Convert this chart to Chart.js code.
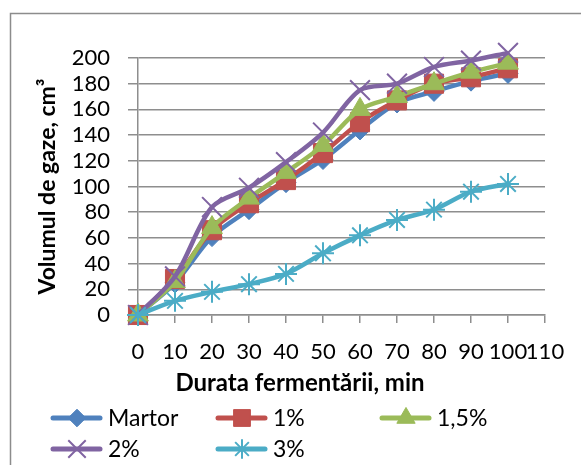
<!DOCTYPE html>
<html>
<head>
<meta charset="utf-8">
<script src="https://cdn.jsdelivr.net/npm/chart.js@4/dist/chart.umd.min.js"></script>
<style>
  body { margin: 0; background: #fff; }
  canvas { display: block; }
</style>
</head>
<body>
<canvas id="myChart" width="581" height="465"></canvas>
<script>
const minutes = [0, 10, 20, 30, 40, 50, 60, 70, 80, 90, 100]
const martor = [0, 25, 61, 82, 103, 121, 144, 165, 174, 182, 188]
const p1 = [0, 28, 66, 87, 105, 126, 150, 167, 180, 185, 192]
const p15 = [0, 26, 68, 91, 111, 132, 160, 170, 180, 189, 196]
const p2 = [0, 30, 84, 99, 119, 142, 175, 180, 193, 198, 204]
const p3 = [0, 11, 18, 24, 32, 48, 62, 74, 82, 96, 102]
const seriesNames = ['Martor', '1%', '1,5%', '2%', '3%']
const xTitle = 'Durata fermentării, min'
const yTitle = 'Volumul de gaze, cm³'

const FONT = 'Lato'
const GRID = '#8e8e8e'

const toPoints = (vals) => vals.map((v, i) => ({ x: minutes[i], y: v }))

const makeSet = (label, vals, color, style, radius, bw, order) => ({
    label: label,
    data: toPoints(vals),
    borderColor: color,
    backgroundColor: color,
    borderWidth: 4.5,
    tension: 0.3,
    clip: false,
    pointStyle: style,
    pointRadius: radius,
    pointBorderWidth: bw,
    pointBackgroundColor: color,
    pointBorderColor: color,
    order: order
})

const datasets = [
    makeSet(seriesNames[0], martor, '#4F81BD', 'rectRot', 10, 1, 5),
    makeSet(seriesNames[1], p1, '#C0504D', 'rect', 13.5, 1, 4),
    makeSet(seriesNames[2], p15, '#9BBB59', 'triangle', 12, 1, 3),
    makeSet(seriesNames[3], p2, '#8064A2', 'crossRot', 14, 2, 2),
    makeSet(seriesNames[4], p3, '#4BACC6', 'star', 11, 2, 1)
]

// frame round the chart and white background
const framePlugin = {
    id: 'frame',
    beforeDraw(chart) {
        const ctx = chart.ctx
        ctx.save()
        ctx.fillStyle = '#fff'
        ctx.fillRect(0, 0, chart.width, chart.height)
        ctx.strokeStyle = '#8c8c8c'
        ctx.lineWidth = 1.5
        ctx.strokeRect(10.5, 13.5, 700, 600)
        ctx.restore()
    }
}

// x title (Excel puts it a bit left of the plot centre) + legend in 3 columns
const legendPlugin = {
    id: 'xlLegend',
    afterDraw(chart) {
        const ctx = chart.ctx
        ctx.save()
        ctx.fillStyle = '#000'
        ctx.font = 'bold 24px ' + FONT
        ctx.textAlign = 'center'
        ctx.textBaseline = 'middle'
        ctx.fillText(xTitle, 300, 383)

        const cols = [53, 218, 382]
        const rows = [418, 449]
        chart.data.datasets.forEach((ds, i) => {
            const x = cols[i % 3]
            const y = rows[Math.floor(i / 3)]
            ctx.strokeStyle = ds.borderColor
            ctx.lineWidth = 5
            ctx.lineCap = 'round'
            ctx.beginPath()
            ctx.moveTo(x, y)
            ctx.lineTo(x + 47, y)
            ctx.stroke()
            ctx.fillStyle = ds.pointBackgroundColor
            ctx.lineWidth = ds.pointBorderWidth
            ctx.lineCap = 'butt'
            Chart.helpers.drawPoint(ctx, {
                pointStyle: ds.pointStyle,
                radius: ds.pointRadius * 0.88,
                rotation: 0,
                borderWidth: ds.pointBorderWidth
            }, x + 24, y)
            ctx.fillStyle = '#000'
            ctx.font = '23px ' + FONT
            ctx.textBaseline = 'middle'
            ctx.textAlign = 'left'
            ctx.fillText(ds.label, x + 55, y + 1)
        })
        ctx.restore()
    }
}

new Chart('myChart', {
    type: 'line',
    data: { datasets: datasets },
    plugins: [framePlugin, legendPlugin],
    options: {
        responsive: false,
        animation: false,
        layout: { padding: { left: 30, top: 58, right: 36, bottom: 66 } },
        plugins: {
            legend: { display: false },
            tooltip: { enabled: false }
        },
        scales: {
            x: {
                type: 'linear',
                min: 0,
                max: 110,
                afterFit: (scale) => { scale.height = 84 },
                ticks: {
                    stepSize: 10,
                    autoSkip: false,
                    maxRotation: 0,
                    padding: 16,
                    color: '#000',
                    font: { family: FONT, size: 22 }
                },
                grid: {
                    drawOnChartArea: false,
                    drawTicks: true,
                    tickLength: 8,
                    color: GRID,
                    lineWidth: 1.5
                },
                border: { color: GRID, width: 1.5 }
            },
            y: {
                min: 0,
                max: 200,
                afterFit: (scale) => { scale.width = 108 },
                ticks: {
                    stepSize: 20,
                    autoSkip: false,
                    padding: 18,
                    color: '#000',
                    font: { family: FONT, size: 22 }
                },
                grid: {
                    tickLength: 10,
                    color: GRID,
                    lineWidth: 1.5
                },
                border: { color: GRID, width: 1.5 },
                title: {
                    display: true,
                    text: yTitle,
                    color: '#000',
                    padding: { top: 4, bottom: 0 },
                    font: { family: FONT, size: 23, weight: 'bold' }
                }
            }
        }
    }
})
</script>
</body>
</html>
